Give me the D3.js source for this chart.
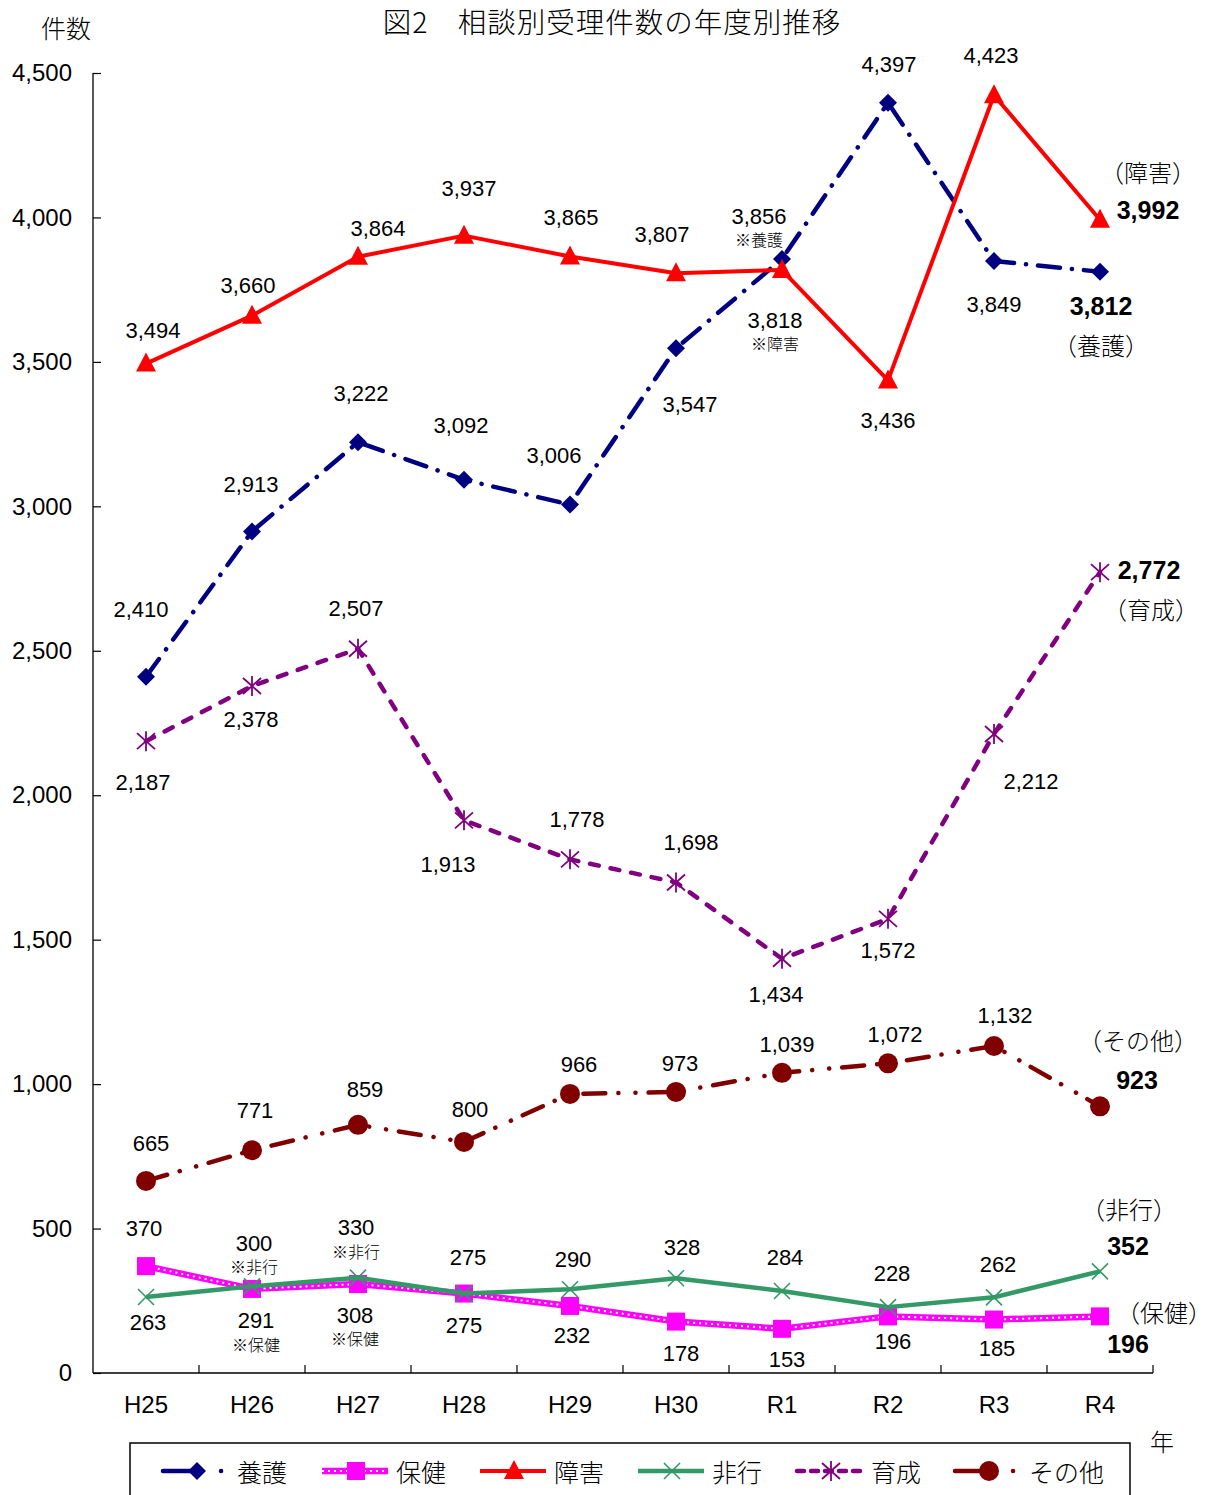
<!DOCTYPE html>
<html>
<head>
<meta charset="utf-8">
<script src="https://cdn.jsdelivr.net/npm/d3@7"></script>
<style>
  html, body { margin: 0; padding: 0; background: #fff; }
  svg { display: block; }
  .num { font-family: "Liberation Sans Narrow", "Liberation Sans", Arial, sans-serif; }
  .jp { font-family: "Noto Sans CJK JP", sans-serif; }
</style>
</head>
<body>
<script>
// ---- data ----
const years = ["H25", "H26", "H27", "H28", "H29", "H30", "R1", "R2", "R3", "R4"];
const yTicks = [0, 500, 1000, 1500, 2000, 2500, 3000, 3500, 4000, 4500];

const yogo   = [2410, 2913, 3222, 3092, 3006, 3547, 3856, 4397, 3849, 3812]; // 養護
const hoken  = [370, 291, 308, 275, 232, 178, 153, 196, 185, 196];           // 保健
const shogai = [3494, 3660, 3864, 3937, 3865, 3807, 3818, 3436, 4423, 3992]; // 障害
const hiko   = [263, 300, 330, 275, 290, 328, 284, 228, 262, 352];           // 非行
const ikusei = [2187, 2378, 2507, 1913, 1778, 1698, 1434, 1572, 2212, 2772]; // 育成
const sonota = [665, 771, 859, 800, 966, 973, 1039, 1072, 1132, 923];        // その他

// value-label placement (dx, dy from the marker), last point handled separately
const yogoLbl   = [[-5,-67],[-1,-47],[3,-49],[-3,-54],[-16,-49],[14,56],[-23,-43],[1,-38],[0,43]];
const hokenLbl  = [[-2,-38],[4,32],[-3,31],[0,32],[2,30],[5,32],[5,31],[5,25],[3,29]];
const shogaiLbl = [[7,-33],[-4,-30],[20,-28],[5,-47],[1,-39],[-14,-39],[-7,50],[0,40],[-3,-40]];
const hikoLbl   = [[2,25],[2,-43],[-2,-50],[4,-36],[3,-30],[6,-31],[3,-33],[4,-34],[4,-33]];
const ikuseiLbl = [[-3,41],[-1,33],[-2,-40],[-16,44],[7,-40],[15,-40],[-6,36],[0,32],[37,48]];
const sonotaLbl = [[5,-37],[3,-40],[7,-35],[6,-32],[9,-29],[4,-28],[5,-28],[7,-29],[11,-30]];

// small notes under some value labels
const yogoNote   = ["", "", "", "", "", "", "※養護", "", ""];
const hokenNote  = ["", "※保健", "※保健", "", "", "", "", "", ""];
const shogaiNote = ["", "", "", "", "", "", "※障害", "", ""];
const hikoNote   = ["", "※非行", "※非行", "", "", "", "", "", ""];

const series = [
  { name: "養護", values: yogo, lbl: yogoLbl, note: yogoNote, color: "#000080", marker: "diamond",
    dash: "22,12,0.1,12", legendDash: "34,24,0.1,40", cap: "round", width: 4.5,
    last: { v: [1, 34], n: [1, 73] } },
  { name: "保健", values: hoken, lbl: hokenLbl, note: hokenNote, color: "#ff00ff", marker: "square",
    dash: null, width: 6.5, inner: true,
    last: { v: [28, 28], n: [64, -5] } },
  { name: "障害", values: shogai, lbl: shogaiLbl, note: shogaiNote, color: "#ff0000", marker: "triangle",
    dash: null, width: 4,
    last: { v: [48, -10], n: [48, -48] } },
  { name: "非行", values: hiko, lbl: hikoLbl, note: hikoNote, color: "#339966", marker: "x",
    dash: null, width: 4.5,
    last: { v: [28, -25], n: [29, -63] } },
  { name: "育成", values: ikusei, lbl: ikuseiLbl, note: null, color: "#800080", marker: "star",
    dash: "9,12", legendDash: "7,7", cap: "round", width: 4.5,
    last: { v: [49, -2], n: [51, 36] } },
  { name: "その他", values: sonota, lbl: sonotaLbl, note: null, color: "#800000", marker: "circle",
    dash: "22,13,0.1,17,0.1,13", legendDash: "34,24,0.1,40", cap: "round", width: 4.5,
    last: { v: [37, -26], n: [38, -67] } }
];

// ---- layout ----
const W = 1215, H = 1495;
const plot = { left: 93, right: 1153, top: 73, bottom: 1373 };

const svg = d3.select("body").append("svg").attr("width", W).attr("height", H);

const x = d3.scaleBand().domain(years).range([plot.left, plot.right]);
const cx = d => x(d) + x.bandwidth() / 2;
const y = d3.scaleLinear().domain([0, 4500]).range([plot.bottom, plot.top]);

// title and axis captions
svg.append("text").attr("class", "jp")
  .attr("x", 612).attr("y", 33).attr("text-anchor", "middle")
  .attr("font-size", 28.5).attr("font-weight", 300).attr("letter-spacing", 1).attr("fill", "#000")
  .text("図2　相談別受理件数の年度別推移");
svg.append("text").attr("class", "jp")
  .attr("x", 66).attr("y", 27).attr("text-anchor", "middle").attr("dominant-baseline", "central")
  .attr("font-size", 25).attr("font-weight", 300).text("件数");
svg.append("text").attr("class", "jp")
  .attr("x", 1162).attr("y", 1440).attr("text-anchor", "middle").attr("dominant-baseline", "central")
  .attr("font-size", 24).attr("font-weight", 300).text("年");

// y axis
const yAxis = d3.axisLeft(y).tickValues(yTicks).tickSize(-8).tickPadding(21).tickFormat(d3.format(","));
const gy = svg.append("g").attr("transform", `translate(${plot.left},0)`).call(yAxis);
gy.select(".domain").attr("stroke", "#000").attr("stroke-width", 1.3).attr("d", `M0,${plot.top}V${plot.bottom}`);
gy.selectAll(".tick line").attr("stroke", "#000").attr("stroke-width", 1.2);
gy.selectAll(".tick text").attr("class", "num").attr("font-size", 24).attr("fill", "#000");

// x axis: labels centred in bands, ticks on band boundaries pointing inward
const xAxis = d3.axisBottom(x).tickSize(0).tickPadding(23);
const gx = svg.append("g").attr("transform", `translate(0,${plot.bottom})`).call(xAxis);
gx.select(".domain").attr("stroke", "#000").attr("stroke-width", 1.3).attr("d", `M${plot.left},0H${plot.right}`);
gx.selectAll(".tick text").attr("class", "num").attr("font-size", 24).attr("fill", "#000");
gx.selectAll(".tick line").remove();
gx.selectAll(".bound").data(years.slice(1).concat(["end"])).enter().append("line")
  .attr("x1", d => d === "end" ? plot.right : x(d))
  .attr("x2", d => d === "end" ? plot.right : x(d))
  .attr("y1", 0).attr("y2", -8).attr("stroke", "#000").attr("stroke-width", 1.2);

// marker drawing
function drawMarker(g, type, color) {
  switch (type) {
    case "diamond":
      g.append("path").attr("d", "M0,-9L9,0L0,9L-9,0Z").attr("fill", color); break;
    case "square":
      g.append("rect").attr("x", -9).attr("y", -9).attr("width", 18).attr("height", 18).attr("fill", color); break;
    case "triangle":
      g.append("path").attr("d", "M0,-11L10,8L-10,8Z").attr("fill", color); break;
    case "circle":
      g.append("circle").attr("r", 10).attr("fill", color); break;
    case "x":
      g.append("path").attr("d", "M-8,-8L8,8M-8,8L8,-8").attr("stroke", color).attr("stroke-width", 1.6).attr("fill", "none"); break;
    case "star":
      g.append("path").attr("d", "M0,-10V10M-9,-8L9,8M-9,8L9,-8").attr("stroke", color).attr("stroke-width", 1.8).attr("fill", "none"); break;
  }
}

const line = d3.line().x(d => cx(d.year)).y(d => y(d.value));

series.forEach(s => {
  const pts = s.values.map((v, i) => ({ year: years[i], value: v }));
  const g = svg.append("g");
  const p = g.append("path").datum(pts).attr("d", line)
    .attr("fill", "none").attr("stroke", s.color).attr("stroke-width", s.width)
    .attr("stroke-linejoin", "round").attr("stroke-linecap", s.cap || "butt");
  if (s.dash) p.attr("stroke-dasharray", s.dash);
  if (s.inner) {
    g.append("path").datum(pts).attr("d", line).attr("fill", "none")
      .attr("stroke", "#fff").attr("stroke-width", 2).attr("stroke-dasharray", "2,4");
  }
  pts.forEach(d => {
    const m = g.append("g").attr("transform", `translate(${cx(d.year)},${y(d.value)})`);
    drawMarker(m, s.marker, s.color);
  });
});

// value labels
series.forEach(s => {
  s.values.forEach((v, i) => {
    const px = cx(years[i]), py = y(v);
    if (i < s.values.length - 1) {
      const [dx, dy] = s.lbl[i];
      svg.append("text").attr("class", "num")
        .attr("x", px + dx).attr("y", py + dy)
        .attr("text-anchor", "middle").attr("dominant-baseline", "central")
        .attr("font-size", 22).attr("fill", "#000").text(d3.format(",")(v));
      if (s.note && s.note[i]) {
        svg.append("text").attr("class", "jp")
          .attr("x", px + dx).attr("y", py + dy + 23)
          .attr("text-anchor", "middle").attr("dominant-baseline", "central")
          .attr("font-size", 16).attr("font-weight", 300).attr("fill", "#000").text(s.note[i]);
      }
    } else {
      svg.append("text").attr("class", "num")
        .attr("x", px + s.last.v[0]).attr("y", py + s.last.v[1])
        .attr("text-anchor", "middle").attr("dominant-baseline", "central")
        .attr("font-size", 25).attr("font-weight", "bold").attr("fill", "#000").text(d3.format(",")(v));
      svg.append("text").attr("class", "jp")
        .attr("x", px + s.last.n[0]).attr("y", py + s.last.n[1])
        .attr("text-anchor", "middle").attr("dominant-baseline", "central")
        .attr("font-size", 24).attr("font-weight", 300).attr("fill", "#000").text("（" + s.name + "）");
    }
  });
});

// legend
const lg = svg.append("g");
lg.append("rect").attr("x", 130).attr("y", 1443).attr("width", 1000).attr("height", 70)
  .attr("fill", "none").attr("stroke", "#000").attr("stroke-width", 1.5);
const legendX = [163, 322, 480, 638, 797, 955];
series.forEach((s, i) => {
  const x0 = legendX[i], ly = 1471;
  const it = lg.append("g");
  const p = it.append("line").attr("x1", x0).attr("x2", x0 + 66).attr("y1", ly).attr("y2", ly)
    .attr("stroke", s.color).attr("stroke-width", s.width).attr("stroke-linecap", s.cap || "butt");
  if (s.legendDash) p.attr("stroke-dasharray", s.legendDash);
  if (s.inner) {
    it.append("line").attr("x1", x0).attr("x2", x0 + 66).attr("y1", ly).attr("y2", ly)
      .attr("stroke", "#fff").attr("stroke-width", 2).attr("stroke-dasharray", "2,4");
  }
  const m = it.append("g").attr("transform", `translate(${x0 + 34},${ly})`);
  drawMarker(m, s.marker, s.color);
  it.append("text").attr("class", "jp").attr("x", x0 + 74).attr("y", ly)
    .attr("dominant-baseline", "central").attr("font-size", 25).attr("font-weight", 300)
    .attr("fill", "#000").text(s.name);
});
</script>
</body>
</html>
